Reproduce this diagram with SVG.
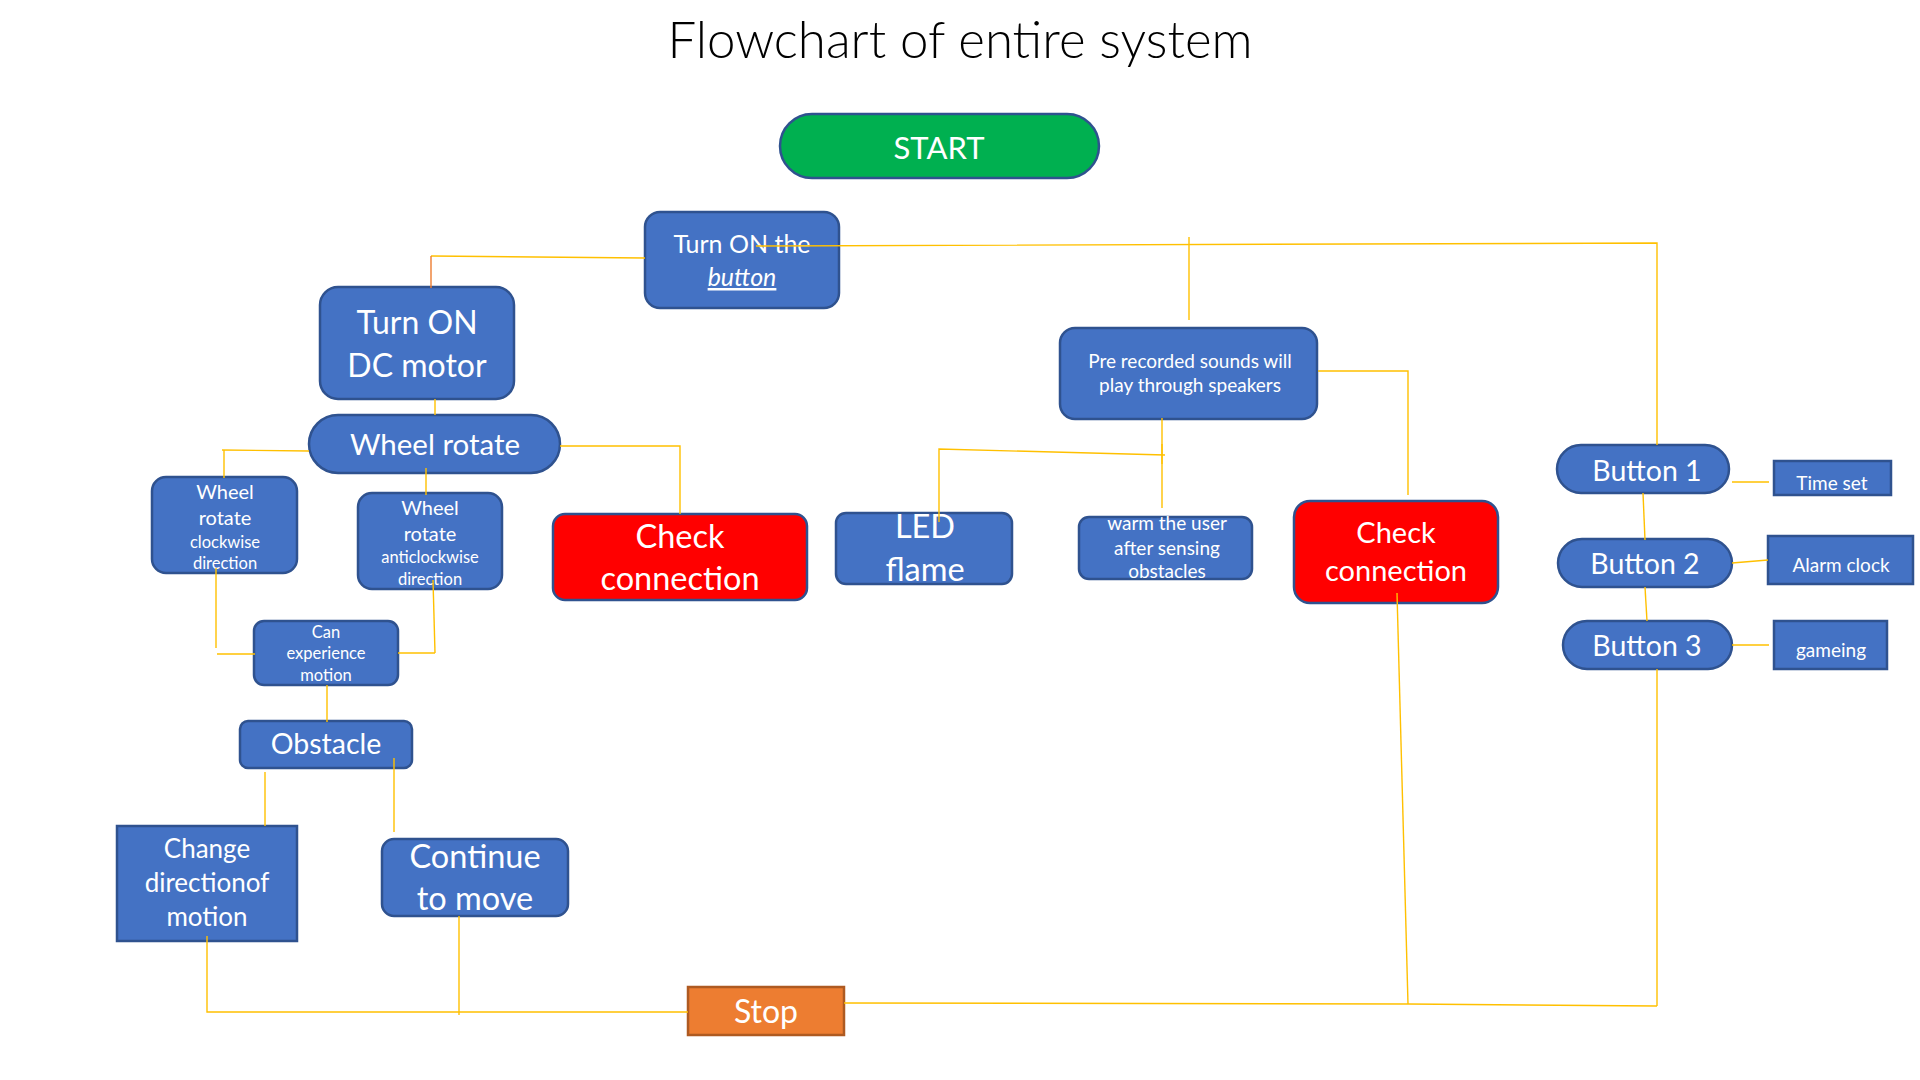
<svg xmlns="http://www.w3.org/2000/svg" width="1920" height="1080" viewBox="0 0 1920 1080">
<style>
.n{fill:#4472C4;stroke:#2F528F;stroke-width:2.5}
.r{fill:#FF0000;stroke:#2F528F;stroke-width:2.5}
.g{fill:#00B050;stroke:#2F528F;stroke-width:2.5}
.o{fill:#ED7D31;stroke:#AE5A21;stroke-width:2.5}
text{font-family:Lato,"Liberation Sans",sans-serif;fill:#FFFFFF;text-anchor:middle}
.title{fill:#000000;font-size:51px;font-weight:300}
.c line,.c polyline{stroke:#FFC000;stroke-width:1.4;fill:none}
</style>
<rect width="1920" height="1080" fill="#FFFFFF"/>
<text class="title" x="960" y="58">Flowchart of entire system</text>

<g id="start"><rect class="g" x="780" y="114" width="319" height="64" rx="32"/><text x="939" y="159" font-size="31">START</text></g>
<g id="turn-on-button"><rect class="n" x="645" y="212" width="194" height="96" rx="15"/><text x="742" y="253" font-size="25">Turn ON the</text><text x="742" y="286" font-size="25" font-style="italic" text-decoration="underline">button</text></g>
<g id="dc-motor"><rect class="n" x="320" y="287" width="194" height="112" rx="18"/><text x="417" y="334" font-size="32">Turn ON</text><text x="417" y="377" font-size="32">DC motor</text></g>
<g id="wheel-rotate"><rect class="n" x="309" y="415" width="251" height="58" rx="29"/><text x="435" y="455" font-size="29.5">Wheel rotate</text></g>
<g id="clockwise"><rect class="n" x="152" y="477" width="145" height="96" rx="14"/><text x="225" y="499" font-size="20">Wheel</text><text x="225" y="525" font-size="20">rotate</text><text x="225" y="548" font-size="16.5">clockwise</text><text x="225" y="569" font-size="16.5">direction</text></g>
<g id="anticlockwise"><rect class="n" x="358" y="493" width="144" height="96" rx="14"/><text x="430" y="515" font-size="20">Wheel</text><text x="430" y="541" font-size="20">rotate</text><text x="430" y="563" font-size="16.5">anticlockwise</text><text x="430" y="585" font-size="16.5">direction</text></g>
<g id="can-experience"><rect class="n" x="254" y="621" width="144" height="64" rx="10"/><text x="326" y="638" font-size="16.5">Can</text><text x="326" y="659" font-size="16.5">experience</text><text x="326" y="681" font-size="16.5">motion</text></g>
<g id="obstacle"><rect class="n" x="240" y="721" width="172" height="47" rx="8"/><text x="326" y="754" font-size="28.5">Obstacle</text></g>
<g id="change-direction"><rect class="n" x="117" y="826" width="180" height="115"/><text x="207" y="858" font-size="26">Change</text><text x="207" y="892" font-size="26">directionof</text><text x="207" y="926" font-size="26">motion</text></g>
<g id="continue"><rect class="n" x="382" y="839" width="186" height="77" rx="12"/><text x="475" y="868" font-size="32.5">Continue</text><text x="475" y="910" font-size="32.5">to move</text></g>
<g id="stop"><rect class="o" x="688" y="987" width="156" height="48"/><text x="766" y="1023" font-size="32">Stop</text></g>
<g id="check-left"><rect class="r" x="553" y="514" width="254" height="86" rx="12"/><text x="680" y="548" font-size="32.5">Check</text><text x="680" y="590" font-size="32.5">connection</text></g>
<g id="led-flame"><rect class="n" x="836" y="513" width="176" height="71" rx="10"/><text x="925" y="538" font-size="32.5">LED</text><text x="925" y="581" font-size="32.5">flame</text></g>
<g id="pre-recorded"><rect class="n" x="1060" y="328" width="257" height="91" rx="15"/><text x="1190" y="368" font-size="19">Pre recorded sounds will</text><text x="1190" y="392" font-size="19">play through speakers</text></g>
<g id="warm-user"><rect class="n" x="1079" y="517" width="173" height="62" rx="10"/><text x="1167" y="530" font-size="19">warm the user</text><text x="1167" y="555" font-size="19">after sensing</text><text x="1167" y="578" font-size="19">obstacles</text></g>
<g id="check-right"><rect class="r" x="1294" y="501" width="204" height="102" rx="16"/><text x="1396" y="543" font-size="29">Check</text><text x="1396" y="581" font-size="29">connection</text></g>
<g id="button1"><rect class="n" x="1557" y="445" width="172" height="48" rx="24"/><text x="1647" y="481" font-size="28.5">Button 1</text></g>
<g id="button2"><rect class="n" x="1558" y="539" width="174" height="48" rx="24"/><text x="1645" y="574" font-size="28.5">Button 2</text></g>
<g id="button3"><rect class="n" x="1563" y="621" width="169" height="48" rx="24"/><text x="1647" y="656" font-size="28.5">Button 3</text></g>
<g id="time-set"><rect class="n" x="1774" y="461" width="117" height="34"/><text x="1832" y="490" font-size="19">Time set</text></g>
<g id="alarm-clock"><rect class="n" x="1768" y="536" width="145" height="48"/><text x="1841" y="572" font-size="19">Alarm clock</text></g>
<g id="gameing"><rect class="n" x="1774" y="621" width="113" height="48"/><text x="1831" y="657" font-size="19">gameing</text></g>

<g id="connectors" class="c">
<polyline points="645,258 431,256"/>
<line x1="431" y1="256" x2="431" y2="288" style="stroke:#ED7D31"/>
<line x1="435" y1="399" x2="435" y2="415"/>
<polyline points="309,451 222,450"/>
<line x1="224" y1="450" x2="224" y2="478"/>
<line x1="426" y1="468" x2="426" y2="495"/>
<polyline points="560,446 680,446 680,514"/>
<line x1="216" y1="568" x2="216" y2="648"/>
<line x1="217" y1="654" x2="255" y2="654"/>
<line x1="433" y1="580" x2="435" y2="653"/>
<line x1="398" y1="653" x2="435" y2="653"/>
<line x1="327" y1="685" x2="327" y2="722"/>
<line x1="265" y1="772" x2="265" y2="826"/>
<line x1="394" y1="758" x2="394" y2="832"/>
<polyline points="207,936 207,1012 688,1012"/>
<line x1="459" y1="916" x2="459" y2="1015"/>
<polyline points="756,246 1657,243 1657,445"/>
<line x1="1189" y1="237" x2="1189" y2="320"/>
<polyline points="1318,371 1408,371 1408,495"/>
<line x1="1162" y1="418" x2="1162" y2="508"/>
<polyline points="1165,455 939,449 939,522"/>
<line x1="1162" y1="444" x2="1162" y2="464"/>
<line x1="1732" y1="482" x2="1769" y2="482"/>
<line x1="1643" y1="493" x2="1645" y2="540"/>
<line x1="1732" y1="563" x2="1768" y2="560"/>
<line x1="1645" y1="587" x2="1647" y2="621"/>
<line x1="1732" y1="645" x2="1769" y2="645"/>
<line x1="1657" y1="669" x2="1657" y2="1006"/>
<line x1="1397" y1="593" x2="1408" y2="1004"/>
<polyline points="844,1003 1408,1004 1657,1006"/>
</g>
</svg>
